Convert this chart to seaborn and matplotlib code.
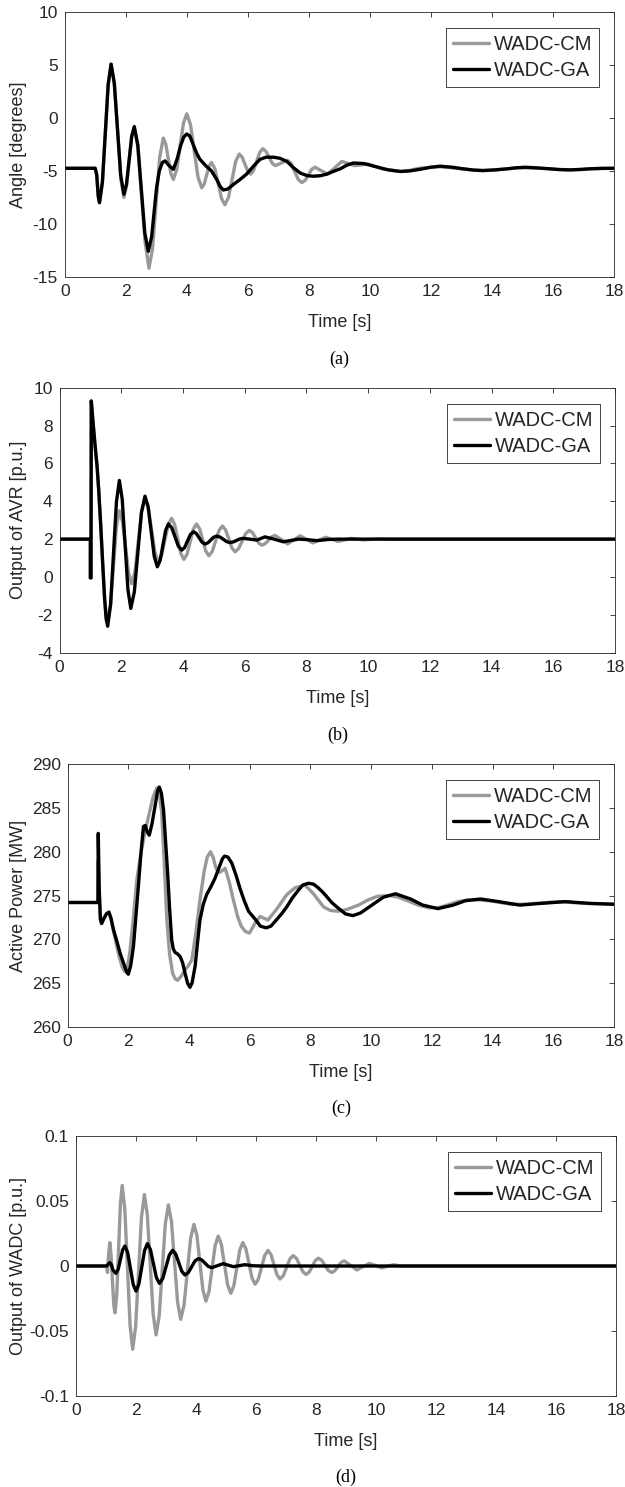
import numpy as np
import pandas as pd
import matplotlib
matplotlib.use("Agg")
import matplotlib.pyplot as plt
import seaborn as sns

# ---------------- data ----------------
series_names = ["WADC-CM", "WADC-GA"]
series_colors = ["#999999", "#000000"]
x_ticks = [0, 2, 4, 6, 8, 10, 12, 14, 16, 18]
x_label = "Time [s]"

# (a) Angle [degrees]
a_ga_t = [0, 1.0, 1.05, 1.1, 1.14, 1.235, 1.33, 1.425, 1.52, 1.625, 1.73, 1.835, 1.94, 2.025, 2.11,
          2.195, 2.28, 2.395, 2.51, 2.625, 2.74, 2.85, 2.95, 3.01, 3.1, 3.2, 3.29, 3.42, 3.56, 3.68,
          3.8, 3.9, 4.0, 4.1, 4.21, 4.32, 4.43, 4.62, 4.81, 5.0, 5.1, 5.2, 5.35, 5.52, 5.75, 5.96,
          6.2, 6.4, 6.6, 6.84, 7.05, 7.28, 7.5, 7.72, 7.95, 8.15, 8.38, 8.59, 8.8, 9.03, 9.25, 9.46,
          9.8, 10.2, 10.6, 11.0, 11.3, 11.64, 12.0, 12.3, 12.7, 13.06, 13.4, 13.7, 14.1, 14.5, 14.8,
          15.1, 15.5, 15.9, 16.2, 16.55, 16.9, 17.2, 17.6, 18.0]
a_ga_v = [-4.75, -4.75, -5.4, -7.4, -8.0, -6.08, -1.45, 3.18, 5.1, 3.3, -1.05, -5.4, -7.2, -6.26, -4.0,
          -1.74, -0.8, -2.53, -6.7, -10.87, -12.6, -11.2, -8.3, -6.6, -5.0, -4.2, -4.05, -4.5, -4.85, -3.9,
          -2.6, -1.8, -1.5, -1.7, -2.5, -3.3, -3.9, -4.5, -5.0, -5.9, -6.5, -6.8, -6.7, -6.3, -5.8, -5.3,
          -4.5, -3.9, -3.7, -3.7, -3.8, -4.1, -4.7, -5.2, -5.45, -5.5, -5.45, -5.3, -5.05, -4.8, -4.45, -4.25,
          -4.3, -4.6, -4.9, -5.05, -5.0, -4.85, -4.65, -4.55, -4.65, -4.8, -4.92, -4.97, -4.9, -4.8, -4.7,
          -4.65, -4.72, -4.8, -4.87, -4.9, -4.86, -4.8, -4.76, -4.75]
a_cm_t = [0, 1.0, 1.05, 1.1, 1.14, 1.235, 1.33, 1.425, 1.52, 1.625, 1.73, 1.84, 1.94, 2.025, 2.11,
          2.195, 2.28, 2.395, 2.51, 2.63, 2.76, 2.8775, 2.995, 3.1125, 3.23, 3.3125, 3.395, 3.4775, 3.56,
          3.67, 3.78, 3.89, 4.0, 4.1225, 4.245, 4.3675, 4.49, 4.57, 4.65, 4.73, 4.81, 4.92, 5.03, 5.14,
          5.25, 5.3675, 5.485, 5.6025, 5.72, 5.8125, 5.905, 5.9975, 6.09, 6.19, 6.29, 6.39, 6.49, 6.59,
          6.7, 6.8, 6.9, 7.1, 7.3, 7.42, 7.535, 7.65, 7.77, 7.88, 7.985, 8.09, 8.2, 8.41, 8.62, 8.85,
          9.08, 9.29, 9.5, 9.95, 10.4, 11.0, 11.3, 11.6, 12.0, 12.3, 12.6, 13.0, 13.35, 13.7, 14.1, 14.5,
          14.8, 15.1, 15.5, 15.9, 16.2, 16.55, 16.9, 17.2, 17.6, 18.0]
a_cm_v = [-4.75, -4.75, -5.4, -7.4, -8.0, -6.08, -1.45, 3.18, 5.1, 3.3, -1.05, -5.8, -7.5, -6.4, -4.1,
          -1.8, -0.9, -2.7, -7.1, -11.6, -14.2, -12.4, -8.05, -3.7, -1.9, -2.47, -3.85, -5.23, -5.8,
          -4.89, -2.7, -0.51, 0.4, -0.63, -3.1, -5.57, -6.6, -6.25, -5.4, -4.55, -4.2, -4.79, -6.2, -7.61,
          -8.2, -7.5, -5.8, -4.1, -3.4, -3.68, -4.35, -5.02, -5.3, -4.95, -4.1, -3.25, -2.9, -3.13,
          -3.7, -4.27, -4.5, -4.25, -4.0, -4.31, -5.05, -5.79, -6.1, -5.89, -5.38, -4.86, -4.65, -4.98, -5.3, -4.7,
          -4.1, -4.3, -4.5, -4.35, -4.8, -5.05, -4.95, -4.75, -4.65, -4.6, -4.68, -4.8, -4.9, -4.95, -4.9, -4.8,
          -4.72, -4.7, -4.73, -4.8, -4.86, -4.9, -4.86, -4.8, -4.76, -4.75]
a_yticks = [-15, -10, -5, 0, 5, 10]
a_ylabel = "Angle [degrees]"

# (b) Output of AVR [p.u.]
b_ga_t = [0, 1.0, 1.0, 1.02, 1.03, 1.08, 1.15, 1.22, 1.27, 1.33, 1.4, 1.46, 1.51, 1.56, 1.655, 1.75,
          1.845, 1.94, 2.0325, 2.125, 2.2175, 2.31, 2.425, 2.54, 2.655, 2.77, 2.87, 2.97, 3.07, 3.17,
          3.26, 3.35, 3.44, 3.53, 3.6375, 3.745, 3.8525, 3.96, 4.055, 4.15, 4.245, 4.34, 4.4325, 4.525,
          4.6175, 4.71, 4.805, 4.9, 4.995, 5.09, 5.2, 5.31, 5.41, 5.52, 5.63, 5.735, 5.84, 5.95, 6.17,
          6.39, 6.66, 6.95, 7.25, 7.5, 7.74, 8.05, 8.34, 8.7, 9.0, 18.0]
b_ga_v = [2.0, 2.0, -0.05, -0.05, 9.3, 8.3, 7.0, 5.8, 4.6, 2.9, 0.7, -1.1, -2.2, -2.6, -1.47, 1.25,
          3.97, 5.1, 4.11, 1.72, -0.67, -1.66, -0.79, 1.31, 3.4, 4.27, 3.72, 2.41, 1.09, 0.54,
          0.87, 1.67, 2.47, 2.8, 2.6, 2.11, 1.62, 1.42, 1.56, 1.91, 2.25, 2.39, 2.3, 2.07,
          1.84, 1.74, 1.8, 1.95, 2.1, 2.16, 2.11, 1.99, 1.87, 1.82, 1.85, 1.93, 2.01, 2.04, 2.0,
          1.95, 2.12, 2.0, 1.86, 1.93, 2.0, 1.97, 1.92, 1.98, 2.0, 2.0]
b_cm_t = [0, 1.0, 1.0, 1.02, 1.03, 1.08, 1.15, 1.22, 1.27, 1.33, 1.4, 1.46, 1.51, 1.56, 1.655, 1.75,
          1.845, 1.94, 2.04, 2.14, 2.24, 2.34, 2.4475, 2.555, 2.6625, 2.77, 2.8775, 2.985, 3.0925, 3.2,
          3.3075, 3.415, 3.5225, 3.63, 3.73, 3.83, 3.93, 4.03, 4.1325, 4.235, 4.3375, 4.44, 4.54, 4.64,
          4.74, 4.84, 4.95, 5.06, 5.17, 5.28, 5.3825, 5.485, 5.5875, 5.69, 5.805, 5.92, 6.035, 6.15,
          6.2525, 6.355, 6.4575, 6.56, 6.665, 6.77, 6.875, 6.98, 7.19, 7.39, 7.6, 7.8, 8.0, 8.21, 8.42,
          8.62, 8.83, 9.03, 9.24, 9.44, 9.65, 9.85, 10.3, 11.0, 18.0]
b_cm_v = [2.0, 2.0, -0.05, -0.05, 9.3, 8.3, 7.0, 5.8, 4.6, 2.9, 0.7, -1.1, -2.0, -2.3, -1.45, 0.6,
          2.65, 3.5, 2.94, 1.58, 0.21, -0.35, 0.31, 1.9, 3.49, 4.15, 3.66, 2.48, 1.29, 0.8,
          1.14, 1.95, 2.76, 3.1, 2.78, 2.02, 1.25, 0.93, 1.2, 1.87, 2.53, 2.8, 2.55, 1.96,
          1.37, 1.12, 1.35, 1.91, 2.46, 2.69, 2.49, 2.01, 1.53, 1.33, 1.5, 1.9, 2.3, 2.46,
          2.35, 2.07, 1.79, 1.68, 1.76, 1.94, 2.12, 2.2, 1.98, 1.75, 1.97, 2.18, 1.99, 1.8, 1.95,
          2.1, 1.99, 1.88, 1.96, 2.04, 2.0, 1.96, 2.01, 2.0, 2.0]
b_yticks = [-4, -2, 0, 2, 4, 6, 8, 10]
b_ylabel = "Output of AVR [p.u.]"

# (c) Active Power [MW]
c_ga_t = [0, 1.0, 1.01, 1.04, 1.08, 1.12, 1.2, 1.28, 1.36, 1.43, 1.51, 1.62, 1.73, 1.87, 1.95, 2.0,
          2.08, 2.17, 2.25, 2.33, 2.42, 2.5, 2.56, 2.62, 2.69, 2.78, 2.88, 2.96, 3.02, 3.09, 3.16, 3.22,
          3.29, 3.36, 3.43, 3.48, 3.54, 3.63, 3.71, 3.79, 3.87, 3.95, 4.03, 4.1, 4.2, 4.28, 4.36, 4.47,
          4.58, 4.72, 4.86, 5.0, 5.1, 5.17, 5.28, 5.41, 5.55, 5.68, 5.82, 5.96, 6.2, 6.35, 6.54, 6.7,
          6.9, 7.05, 7.22, 7.4, 7.6, 7.75, 7.93, 8.1, 8.25, 8.4, 8.53, 8.7, 8.9, 9.15, 9.4, 9.65, 9.9,
          10.4, 10.8, 11.3, 11.7, 12.2, 12.7, 13.1, 13.6, 14.2, 14.9, 15.6, 16.4, 17.2, 18.0]
c_ga_v = [274.2, 274.2, 282.1, 276.0, 272.3, 271.8, 272.4, 272.9, 273.1, 272.4, 271.1, 269.8, 268.4, 267.0, 266.2, 266.0,
          267.0, 269.2, 272.6, 276.0, 280.0, 282.9, 283.0, 282.3, 281.9, 283.2, 285.2, 286.9, 287.4, 286.7, 284.8, 281.6,
          277.9, 273.5, 269.9, 268.9, 268.5, 268.3, 268.0, 267.3, 266.1, 265.0, 264.5, 265.0, 266.9, 269.6, 272.2, 274.0,
          275.1, 276.0, 277.0, 278.3, 279.2, 279.5, 279.4, 278.7, 277.3, 275.8, 274.4, 273.2, 272.2, 271.5, 271.3, 271.5,
          272.3, 272.9, 273.7, 274.7, 275.6, 276.2, 276.4, 276.3, 275.9, 275.4, 274.9, 274.2, 273.6, 272.9, 272.7, 273.0, 273.6,
          274.8, 275.2, 274.6, 273.9, 273.5, 273.9, 274.4, 274.6, 274.3, 273.9, 274.1, 274.3, 274.1, 274.0]
c_cm_t = [0, 1.0, 1.01, 1.04, 1.08, 1.12, 1.2, 1.28, 1.36, 1.43, 1.51, 1.6, 1.7, 1.8, 1.89, 1.97,
          2.05, 2.16, 2.28, 2.39, 2.5, 2.6, 2.69, 2.82, 2.94, 3.02, 3.1, 3.18, 3.27, 3.36, 3.46, 3.54,
          3.62, 3.75, 3.87, 3.98, 4.09, 4.22, 4.36, 4.5, 4.6, 4.71, 4.8, 4.88, 4.97, 5.08, 5.19, 5.32,
          5.46, 5.6, 5.72, 5.85, 5.99, 6.17, 6.34, 6.47, 6.6, 6.9, 7.22, 7.5, 7.82, 8.1, 8.43, 8.65,
          8.9, 9.2, 9.58, 9.9, 10.2, 10.6, 10.9, 11.2, 11.55, 11.9, 12.2, 12.5, 12.85, 13.2, 13.55,
          13.9, 14.25, 14.6, 15.0, 15.4, 15.8, 16.2, 16.6, 17.0, 17.5, 18.0]
c_cm_v = [274.2, 274.2, 279.0, 275.0, 272.3, 271.8, 272.4, 272.9, 273.1, 272.3, 271.0, 269.5, 268.0, 266.8, 266.3, 266.8,
          268.5, 272.2, 276.8, 279.3, 281.4, 283.0, 284.4, 286.3, 287.3, 286.6, 284.5, 279.0, 272.2, 268.3, 266.1, 265.5,
          265.3, 265.8, 266.5, 267.0, 267.6, 270.6, 274.5, 277.8, 279.4, 280.0, 279.3, 278.2, 277.6, 277.8, 278.1, 276.6,
          274.5, 272.6, 271.5, 270.9, 270.7, 271.8, 272.6, 272.4, 272.2, 273.5, 275.1, 275.9, 276.2, 275.2, 273.7, 273.3,
          273.2, 273.4, 273.9, 274.5, 274.9, 275.0, 274.8, 274.4, 273.9, 273.6, 273.6, 273.9, 274.3, 274.5, 274.5,
          274.4, 274.2, 274.0, 274.0, 274.1, 274.2, 274.3, 274.2, 274.1, 274.05, 274.0]
c_yticks = [260, 265, 270, 275, 280, 285, 290]
c_ylabel = "Active Power [MW]"

# (d) Output of WADC [p.u.]
d_ga_t = [0, 1.02, 1.08, 1.13, 1.18, 1.23, 1.33, 1.405, 1.48, 1.555, 1.63, 1.7225, 1.815, 1.9075, 2.0,
          2.095, 2.19, 2.285, 2.38, 2.48, 2.58, 2.68, 2.78, 2.89, 3.0, 3.11, 3.22, 3.3225, 3.425, 3.5275,
          3.63, 3.7425, 3.855, 3.9675, 4.08, 4.19, 4.3, 4.41, 4.52, 4.72, 4.91, 5.08, 5.24, 5.43, 5.63,
          5.9, 6.2, 18.0]
d_ga_v = [0, 0, 0.0015, 0.0026, 0.001, -0.003, -0.0057, -0.0026, 0.0049, 0.0123, 0.0154, 0.0103, -0.002, -0.0142, -0.0193,
          -0.014, -0.0011, 0.0119, 0.0172, 0.0127, 0.0019, -0.0089, -0.0134, -0.0097, -0.0007, 0.0084, 0.0121, 0.0093, 0.0026, -0.0041,
          -0.0069, -0.0051, -0.0006, 0.0039, 0.0057, 0.0047, 0.0022, -0.0003, -0.0013, 0.0003, 0.0018, 0.0006, -0.0005, 0.0002, 0.001,
          0.0002, 0, 0]
d_cm_t = [0, 1.02, 1.05, 1.09, 1.13, 1.17, 1.21, 1.26, 1.3, 1.36, 1.42, 1.48, 1.54, 1.6275, 1.715, 1.8025,
          1.89, 1.9875, 2.085, 2.1825, 2.28, 2.3775, 2.475, 2.5725, 2.67, 2.7725, 2.875, 2.9775, 3.08, 3.1825,
          3.285, 3.3875, 3.49, 3.6, 3.71, 3.82, 3.93, 4.03, 4.13, 4.23, 4.33, 4.4325, 4.535, 4.6375, 4.74,
          4.845, 4.95, 5.055, 5.16, 5.26, 5.36, 5.46, 5.56, 5.6625, 5.765, 5.8675, 5.97, 6.0775, 6.185, 6.2925,
          6.4, 6.5, 6.6, 6.7, 6.8, 6.91, 7.02, 7.13, 7.24, 7.3475, 7.455, 7.5625, 7.67, 7.7725, 7.875, 7.9775,
          8.08, 8.19, 8.3, 8.41, 8.52, 8.625, 8.73, 8.835, 8.94, 9.15, 9.36, 9.57, 9.78, 9.99, 10.2, 10.4,
          10.6, 10.8, 11.0, 18.0]
d_cm_v = [0, 0, -0.005, 0.01, 0.018, 0.008, -0.01, -0.03, -0.036, -0.0216, 0.013, 0.0476, 0.062, 0.0435, -0.001, -0.0455,
          -0.064, -0.0466, -0.0045, 0.0376, 0.055, 0.0392, 0.001, -0.0372, -0.053, -0.0384, -0.003, 0.0324, 0.047, 0.0341,
          0.003, -0.0281, -0.041, -0.0303, -0.0045, 0.0213, 0.032, 0.0234, 0.0025, -0.0184, -0.027, -0.0197, -0.002, 0.0157, 0.023,
          0.0166, 0.001, -0.0146, -0.021, -0.0153, -0.0015, 0.0123, 0.018, 0.0133, 0.002, -0.0093, -0.014, -0.0102, -0.001, 0.0082,
          0.012, 0.0088, 0.001, -0.0068, -0.010, -0.0074, -0.001, 0.0054, 0.008, 0.0059, 0.0008, -0.0044, -0.0065, -0.0047, -0.0003, 0.0042,
          0.006, 0.0044, 0.0005, -0.0034, -0.005, -0.0037, -0.0005, 0.0027, 0.004, 0.0005, -0.003, -0.0005, 0.002, 0.0003, -0.0015, 0,
          0.001, 0, 0, 0]
d_yticks = [-0.1, -0.05, 0, 0.05, 0.1]
d_yticklabels = ["-0.1", "-0.05", "0", "0.05", "0.1"]
d_ylabel = "Output of WADC [p.u.]"

panel_tags = ["(a)", "(b)", "(c)", "(d)"]

# ---------------- figure ----------------
sns.set_theme(style="white")
plt.rcParams["font.family"] = ["Liberation Sans", "DejaVu Sans"]
plt.rcParams["axes.unicode_minus"] = False

W, H = 625, 1487
fig = plt.figure(figsize=(W / 100, H / 100), dpi=100)
fig.patch.set_facecolor("white")

axis_col = "#262626"

panels = [
    dict(cm=(a_cm_t, a_cm_v), ga=(a_ga_t, a_ga_v), yt=a_yticks, ytl=None, yl=a_ylabel,
         box=(64.7, 614.0, 12.3, 276.7), tag_y=359),
    dict(cm=(b_cm_t, b_cm_v), ga=(b_ga_t, b_ga_v), yt=b_yticks, ytl=None, yl=b_ylabel,
         box=(59.5, 615.0, 387.7, 652.7), tag_y=735),
    dict(cm=(c_cm_t, c_cm_v), ga=(c_ga_t, c_ga_v), yt=c_yticks, ytl=None, yl=c_ylabel,
         box=(67.6, 614.0, 764.3, 1026.7), tag_y=1108),
    dict(cm=(d_cm_t, d_cm_v), ga=(d_ga_t, d_ga_v), yt=d_yticks, ytl=d_yticklabels, yl=d_ylabel,
         box=(76.0, 616.0, 1136.0, 1396.0), tag_y=1477),
]

for p, tag in zip(panels, panel_tags):
    x0, x1, y0, y1 = p["box"]
    wpx, hpx = x1 - x0, y1 - y0
    ax = fig.add_axes([x0 / W, 1 - y1 / H, wpx / W, hpx / H])
    df = pd.concat([
        pd.DataFrame({"t": p["cm"][0], "v": p["cm"][1], "series": series_names[0]}),
        pd.DataFrame({"t": p["ga"][0], "v": p["ga"][1], "series": series_names[1]}),
    ], ignore_index=True)
    sns.lineplot(data=df, x="t", y="v", hue="series", hue_order=series_names,
                 palette=series_colors, estimator=None, sort=False, linewidth=2.4,
                 ax=ax)
    for ln in ax.get_lines():
        ln.set_solid_joinstyle("round")
        ln.set_solid_capstyle("round")
    ax.set_xlim(0, 18)
    ax.set_ylim(p["yt"][0], p["yt"][-1])
    ax.set_xticks(x_ticks)
    ax.set_xticklabels([str(v) for v in x_ticks])
    ax.set_yticks(p["yt"])
    if p["ytl"] is not None:
        ax.set_yticklabels(p["ytl"])
    else:
        ax.set_yticklabels([str(v) for v in p["yt"]])
    ax.tick_params(direction="in", length=3.6, width=0.6, top=True, right=True,
                   labelsize=12.5, colors=axis_col, pad=5)
    for s in ax.spines.values():
        s.set_color(axis_col)
        s.set_linewidth(0.6)
        s.set_visible(True)
    ax.set_xlabel(x_label, fontsize=13, color=axis_col, va="top")
    ax.xaxis.set_label_coords(0.5, -37 / hpx)
    ax.set_ylabel(p["yl"], fontsize=13, color=axis_col)
    ax.yaxis.set_label_coords((27 - x0) / wpx, 0.5)
    handles, labels = ax.get_legend_handles_labels()
    leg = ax.legend(handles, labels, loc="upper right",
                    bbox_to_anchor=(1 - 15 / wpx, 1 - 16 / hpx), borderaxespad=0,
                    frameon=True, fancybox=False, framealpha=1, edgecolor=axis_col,
                    fontsize=14.5, handlelength=1.8, handletextpad=0.2, borderpad=0.35,
                    labelspacing=0.35)
    leg.get_frame().set_linewidth(0.6)
    fig.text(((x0 + x1) / 2) / W, 1 - p["tag_y"] / H, tag, ha="center", va="center",
             fontsize=13, family=["Liberation Serif", "DejaVu Serif"], color="black")

fig.savefig("out.png", dpi=100, facecolor="white")
